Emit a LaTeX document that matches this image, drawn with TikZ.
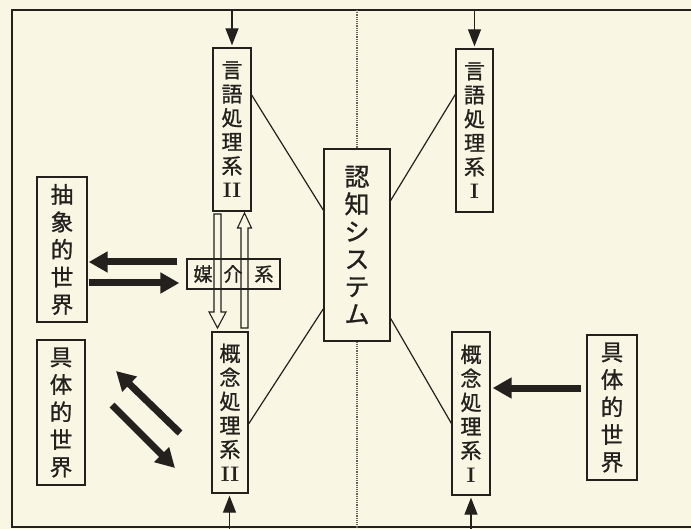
\documentclass[tikz,border=0pt]{standalone}
\usepackage{fontspec}
\newfontfamily\jp[FakeBold=1]{Noto Sans CJK JP}
\usetikzlibrary{arrows.meta,calc}
\definecolor{bg}{RGB}{249,246,228}
\definecolor{ink}{RGB}{35,32,30}
\newcommand{\romtwo}{{\rmfamily\bfseries\fontsize{21}{24}\selectfont II}}
\newcommand{\romone}{{\rmfamily\bfseries\fontsize{21}{24}\selectfont I}}
\begin{document}
\begin{tikzpicture}[x=1pt,y=-1pt,
  box/.style={draw=ink,line width=1.3pt,inner sep=0pt,align=center,text=ink},
  vtsix/.style={box,font=\jp\fontsize{21}{24}\selectfont},
  vtfive/.style={box,font=\jp\fontsize{22.5}{27.5}\selectfont},
  thinline/.style={draw=ink,line width=1.2pt},
  smallarrow/.style={draw=ink,line width=1.3pt,-{Triangle[length=17pt,width=13pt]}},
  bigarrow/.style={draw=ink,line width=7pt,-{Triangle[length=19pt,width=20pt]}},
  hollow/.style={draw=ink,line width=1.1pt,line join=miter},
  frameline/.style={draw=ink,line width=1.8pt},
  dotline/.style={draw=ink!70,line width=1.2pt,densely dotted},
]
\fill[bg] (0,0) rectangle (691,529);
\useasboundingbox (0,0) rectangle (691,529);

% frame
\draw[frameline] (691,10) -- (12,10) -- (12,527) -- (691,527);

\coordinate (topy) at (0,10);
\coordinate (boty) at (0,529);

% nodes
\node[vtsix, minimum width=38, minimum height=163] (gengo2) at (232,129.5) {言\\語\\処\\理\\系\\\romtwo};
\node[vtsix, minimum width=37, minimum height=163] (gengo1) at (474.5,130.5) {言\\語\\処\\理\\系\\\romone};
\node[box, font=\jp\fontsize{25}{27.5}\selectfont, minimum width=66, minimum height=192] (ninchi) at (357,245) {認\\知\\シ\\ス\\テ\\ム};
\node[vtfive, minimum width=50, minimum height=145] (chusho) at (62,249.5) {抽\\象\\的\\世\\界};
\node[vtfive, minimum width=48, minimum height=145] (gutaiL) at (61,412.5) {具\\体\\的\\世\\界};
\node[vtsix, minimum width=36, minimum height=161] (gainen2) at (230,412.5) {概\\念\\処\\理\\系\\\romtwo};
\node[vtsix, minimum width=38, minimum height=163] (gainen1) at (471,413.5) {概\\念\\処\\理\\系\\\romone};
\node[vtfive, minimum width=50, minimum height=145] (gutaiR) at (612,407.5) {具\\体\\的\\世\\界};
\node[box, font=\jp\fontsize{19}{20}\selectfont, minimum width=93, minimum height=30] (baikai) at (233.5,274) {媒\hspace{11pt}介\hspace{12pt}系};

% dotted divider
\draw[dotline] (ninchi.north |- topy) -- (ninchi.north);
\draw[dotline] (ninchi.south) -- (ninchi.south |- boty);

% thin connectors
\draw[thinline] ($(gengo2.north east)!0.29!(gengo2.south east)$) -- ($(ninchi.north west)!0.32!(ninchi.south west)$);
\draw[thinline] ($(ninchi.north east)!0.27!(ninchi.south east)$) -- ($(gengo1.north west)!0.28!(gengo1.south west)$);
\draw[thinline] ($(gainen2.north east)!0.57!(gainen2.south east)$) -- ($(ninchi.north west)!0.83!(ninchi.south west)$);
\draw[thinline] ($(ninchi.north east)!0.88!(ninchi.south east)$) -- ($(gainen1.north west)!0.56!(gainen1.south west)$);

% small input arrows
\draw[smallarrow] (gengo2.north |- topy) -- ([yshift=2pt]gengo2.north);
\draw[smallarrow] (gengo1.north |- topy) -- ([yshift=2pt]gengo1.north);
\draw[smallarrow] ([xshift=-0.5pt]gainen2.south |- boty) -- ([xshift=-0.5pt,yshift=-2pt]gainen2.south);
\draw[smallarrow] (gainen1.south |- boty) -- ([yshift=-2pt]gainen1.south);

% thick arrows
\draw[bigarrow, shorten <=9pt, shorten >=1pt] ([yshift=12pt]baikai.west) -- ([yshift=12pt]baikai.west -| chusho.east);
\draw[bigarrow, shorten <=1pt, shorten >=7pt] ([yshift=-9pt]baikai.west -| chusho.east) -- ([yshift=-9pt]baikai.west);
\draw[bigarrow, shorten <=5pt, shorten >=2pt] ([yshift=19.5pt]gutaiR.west) -- ([yshift=19.5pt]gutaiR.west -| gainen1.east);
\coordinate (daS) at (180,433);
\coordinate (daE) at (116,371);
\coordinate (dbS) at (112,405);
\coordinate (dbE) at (175,468);
\draw[bigarrow] (daS) -- (daE);
\draw[bigarrow] (dbS) -- (dbE);

% hollow arrows through the mediating system
\draw[hollow] (214,214) -- (214,312) -- (209,312) -- (217.5,328) -- (226,312) -- (221,312) -- (221,214) -- cycle;
\draw[hollow] (241,328) -- (241,228) -- (237.5,228) -- (244.5,213) -- (251.5,228) -- (248,228) -- (248,328) -- cycle;

\end{tikzpicture}
\end{document}
